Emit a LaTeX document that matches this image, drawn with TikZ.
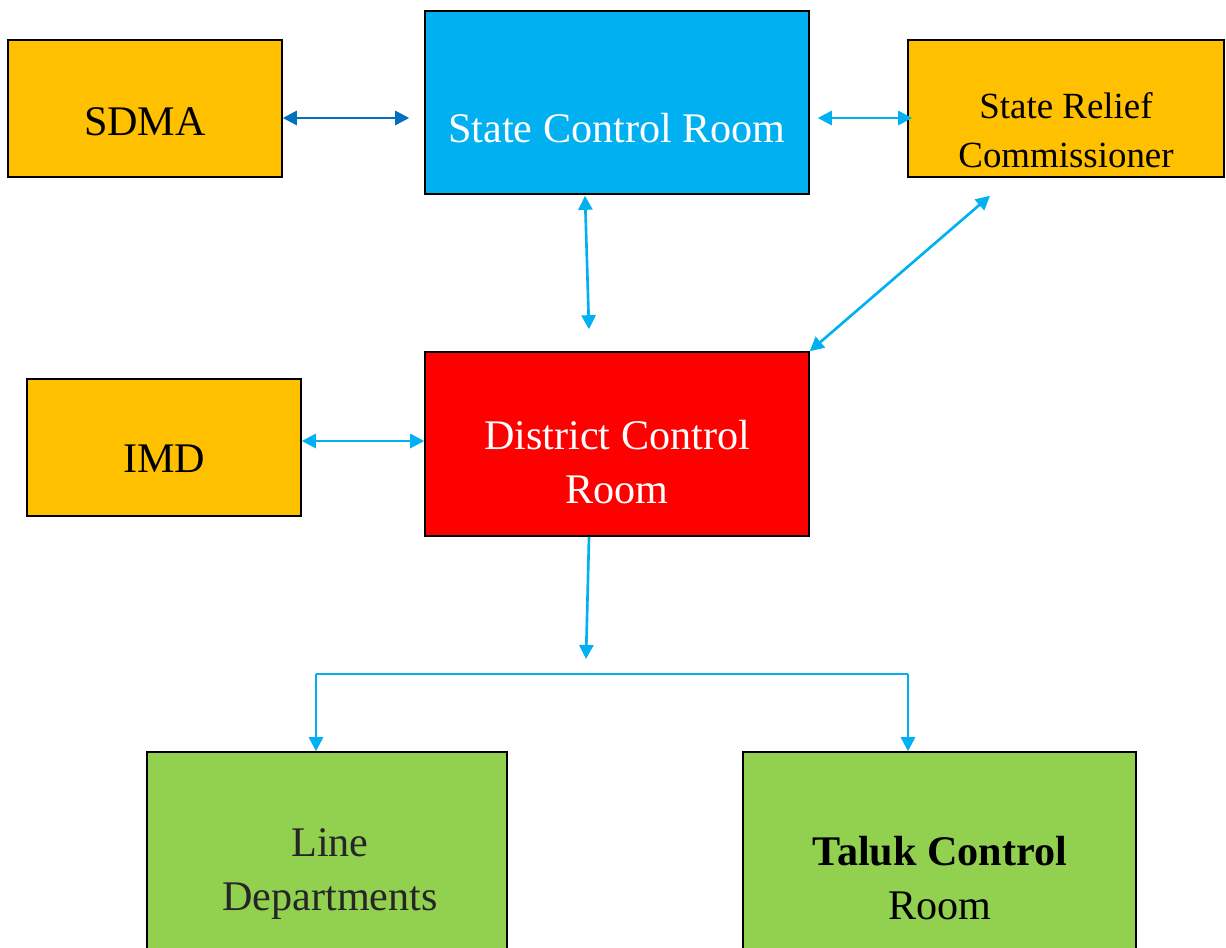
\documentclass[tikz,border=0pt]{standalone}
\usepackage{fontspec}
\setmainfont{Liberation Serif}
\usetikzlibrary{arrows.meta,calc}
\definecolor{orng}{HTML}{FFC000}
\definecolor{skyb}{HTML}{00B0F0}
\definecolor{darkb}{HTML}{0070C0}
\definecolor{redb}{HTML}{FF0000}
\definecolor{grn}{HTML}{92D050}
\definecolor{dgray}{HTML}{262626}
\begin{document}
\begin{tikzpicture}[x=0.02cm,y=-0.02cm,
  box/.style={draw=black, line width=0.9pt, rectangle, inner sep=0pt},
  txt/.style={align=center, inner sep=0pt, font=\fontsize{24}{31}\selectfont},
  conn/.style={draw=skyb, line width=1.5pt, {Triangle[length=8pt,width=8pt]}-{Triangle[length=8pt,width=8pt]}},
  oneway/.style={draw=skyb, line width=1.5pt, -{Triangle[length=8pt,width=8pt]}},
  plain/.style={draw=skyb, line width=1.5pt}]
\useasboundingbox (0,0) rectangle (1226,947);
% boxes
\node[box, fill=orng, minimum width=5.48cm, minimum height=2.74cm] (sdma) at (145,108.5) {};
\node[box, fill=skyb, minimum width=7.68cm, minimum height=3.66cm] (scr) at (617,102.5) {};
\node[box, fill=orng, minimum width=6.32cm, minimum height=2.74cm] (src) at (1066,108.5) {};
\node[box, fill=orng, minimum width=5.48cm, minimum height=2.74cm] (imd) at (164,447.5) {};
\node[box, fill=redb, minimum width=7.68cm, minimum height=3.68cm] (dcr) at (617,444) {};
\node[box, fill=grn, minimum width=7.2cm, minimum height=4.4cm] (ld) at (327,862) {};
\node[box, fill=grn, minimum width=7.86cm, minimum height=4.4cm] (tcr) at (939.5,862) {};
% texts
\node[txt] at (145,122) {SDMA};
\node[txt, text=white] at (617,128) {State Control Room};
\node[txt, font=\fontsize{21}{28}\selectfont] at (1066,130) {State Relief\\Commissioner};
\node[txt] at (164,459) {IMD};
\node[txt, text=white] at (617,462) {District Control\\Room};
\node[txt, text=dgray] at (330,874) {Line\\Departments};
\node[txt] at (940,878) {\textbf{Taluk Control}\\Room};
% connectors
\draw[conn, draw=darkb] ($(sdma.east)+(0,9.5)$) -- ($(scr.west)+(-15,15.5)$);
\draw[conn] ($(scr.east)+(8,15.5)$) -- ($(src.west)+(5,9.5)$);
\draw[conn] ($(scr.south)+(-32,1)$) -- ($(dcr.north)+(-28,-22)$);
\draw[conn] ($(src.south)+(-76,18)$) -- (dcr.north east);
\draw[conn] ($(imd.east)+(0,-6.5)$) -- ($(dcr.west)+(0,-3)$);
\coordinate (jm) at (586,659);
\coordinate (jl) at (316,674);
\coordinate (jr) at (908,674);
\draw[oneway] ($(dcr.south)+(-28,0)$) -- (jm);
\draw[plain] (jl) -- (jr);
\draw[oneway] (jl) -- (jl |- ld.north);
\draw[oneway] (jr) -- (jr |- tcr.north);
\end{tikzpicture}
\end{document}
